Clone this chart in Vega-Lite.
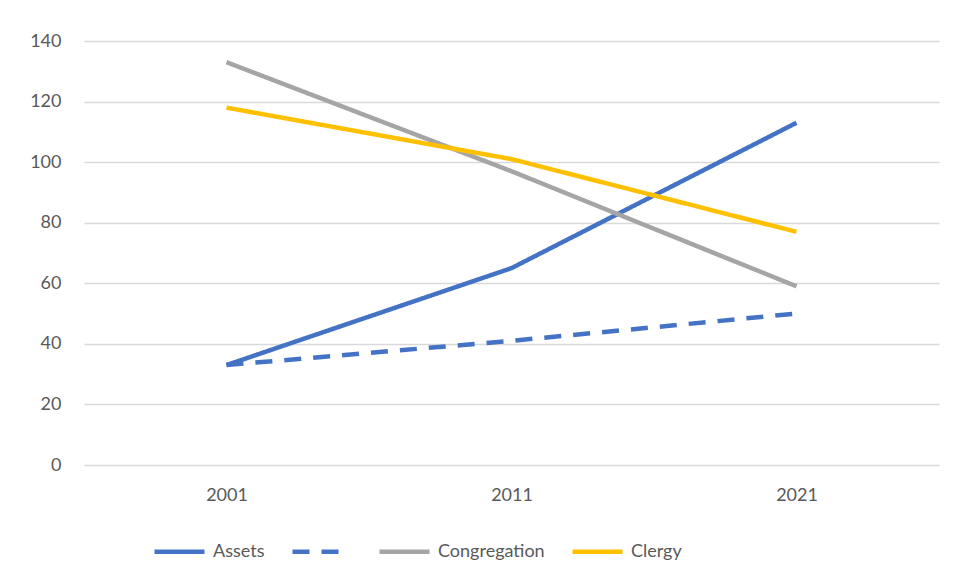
{
  "$schema": "https://vega.github.io/schema/vega-lite/v6.json",
  "width": 855,
  "height": 424,
  "autosize": {"type": "none"},
  "padding": {"left": 84, "top": 41, "right": 16, "bottom": 116},
  "background": "white",
  "config": {"view": {"stroke": null}, "font": "Lato"},
  "data": {
    "values": [
      {"year": "2001", "series": "Assets", "value": 33},
      {"year": "2011", "series": "Assets", "value": 65},
      {"year": "2021", "series": "Assets", "value": 113},
      {"year": "2001", "series": "Assets trend", "value": 33},
      {"year": "2011", "series": "Assets trend", "value": 41},
      {"year": "2021", "series": "Assets trend", "value": 50},
      {"year": "2001", "series": "Congregation", "value": 133},
      {"year": "2011", "series": "Congregation", "value": 97},
      {"year": "2021", "series": "Congregation", "value": 59},
      {"year": "2001", "series": "Clergy", "value": 118},
      {"year": "2011", "series": "Clergy", "value": 101},
      {"year": "2021", "series": "Clergy", "value": 77}
    ]
  },
  "mark": {"type": "line", "strokeWidth": 4.5},
  "encoding": {
    "x": {
      "field": "year",
      "type": "ordinal",
      "scale": {"type": "point", "padding": 0.5},
      "axis": {"title": null, "labelAngle": 0, "ticks": false, "domain": false, "grid": false, "labelPadding": 21, "labelFontSize": 18, "labelColor": "#595959"}
    },
    "y": {
      "field": "value",
      "type": "quantitative",
      "scale": {"domain": [0, 140], "nice": false},
      "axis": {"title": null, "values": [0, 20, 40, 60, 80, 100, 120, 140], "ticks": false, "domain": false, "gridColor": "#d9d9d9", "gridWidth": 1.3, "labelPadding": 23, "labelFontSize": 18, "labelColor": "#595959"}
    },
    "color": {
      "field": "series",
      "type": "nominal",
      "scale": {"domain": ["Assets", "Assets trend", "Congregation", "Clergy"], "range": ["#4472C4", "#4472C4", "#A5A5A5", "#FFC000"]},
      "legend": {"title": null, "orient": "none", "legendX": 68, "legendY": 483, "direction": "horizontal", "symbolType": "M-1,0H1", "symbolSize": 2500, "symbolStrokeWidth": 4.5, "labelFontSize": 18, "labelColor": "#595959", "labelOffset": 6, "columnPadding": 18, "labelExpr": "datum.label == 'Assets trend' ? '' : datum.label"}
    },
    "strokeDash": {
      "field": "series",
      "type": "nominal",
      "scale": {"domain": ["Assets", "Assets trend", "Congregation", "Clergy"], "range": [[1, 0], [17, 12], [1, 0], [1, 0]]},
      "legend": {"title": null, "orient": "none", "legendX": 68, "legendY": 483, "direction": "horizontal", "symbolType": "M-1,0H1", "symbolSize": 2500, "symbolStrokeWidth": 4.5, "labelFontSize": 18, "labelColor": "#595959", "labelOffset": 6, "columnPadding": 18, "labelExpr": "datum.label == 'Assets trend' ? '' : datum.label"}
    }
  }
}
